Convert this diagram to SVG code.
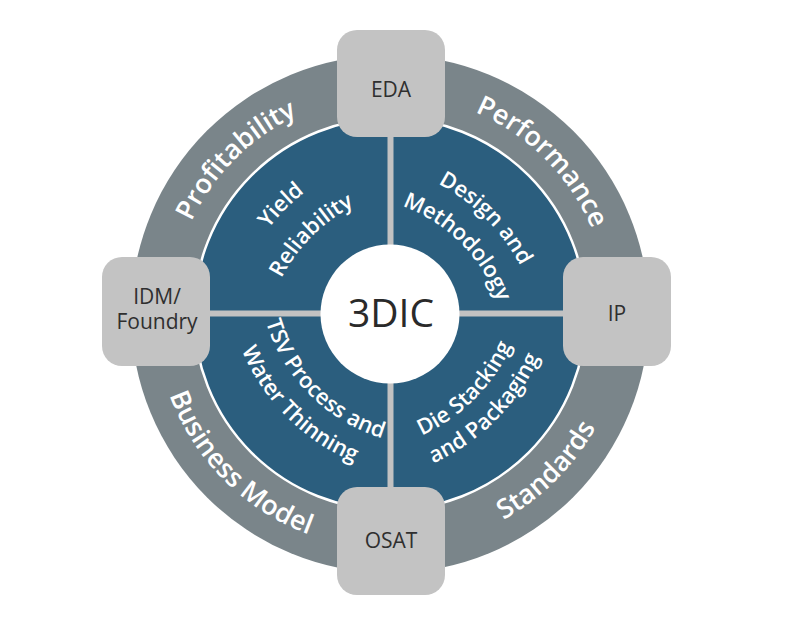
<svg xmlns="http://www.w3.org/2000/svg" width="800" height="625" viewBox="0 0 800 625">
<style>
.ring{fill:#7a858a}
.core{fill:#2b5e7e;stroke:#ffffff;stroke-width:2.5}
.div{stroke:#c2c2c2;stroke-width:6;fill:none}
.box{fill:#c3c3c3}
.hub{fill:#ffffff}
.btxt{font-family:"Open Sans","Noto Sans","DejaVu Sans",sans-serif;font-size:21px;fill:#2f2f2f;text-anchor:middle}
.htxt{font-family:"Open Sans","Noto Sans","DejaVu Sans",sans-serif;font-size:39px;fill:#2a2a2a;text-anchor:middle}
.rtxt{font-family:"Open Sans","Noto Sans","DejaVu Sans",sans-serif;font-size:27px;font-weight:600;fill:#ffffff;text-anchor:middle}
.qtxt{font-family:"Open Sans","Noto Sans","DejaVu Sans",sans-serif;font-size:22px;font-weight:600;fill:#ffffff;text-anchor:middle}
</style>
<defs>
<path id="pProf" d="M 171,314 A 219 219 0 0 1 390,95"/>
<path id="pPerf" d="M 390,95 A 219 219 0 0 1 609,314"/>
<path id="pBus" d="M 155,314 A 235 235 0 0 0 390,549"/>
<path id="pStd" d="M 390,549 A 235 235 0 0 0 625,314"/>
<path id="qUL1" d="M 225.23,374.57 A 208 208 0 0 1 450.57,149.22"/>
<path id="qUL2" d="M 263.08,371.25 A 170 170 0 0 1 447.25,187.08"/>
<path id="qUR1" d="M 330.57,162.17 A 195 195 0 0 1 541.83,373.43"/>
<path id="qUR2" d="M 333.62,197.04 A 160 160 0 0 1 506.96,370.38"/>
<path id="qLL1" d="M 259.09,256.40 A 174 174 0 0 0 447.60,444.91"/>
<path id="qLL2" d="M 227.21,253.61 A 206 206 0 0 0 450.39,476.79"/>
<path id="qLR1" d="M 331.88,450.89 A 180 180 0 0 0 526.89,255.88"/>
<path id="qLR2" d="M 329.26,480.77 A 210 210 0 0 0 556.77,253.26"/>
</defs>
<rect x="0" y="0" width="800" height="625" fill="#ffffff"/>
<g id="ring">
<circle class="ring" cx="390" cy="314" r="259"/>
<text class="rtxt"><textPath href="#pProf" startOffset="50%">Profitability</textPath></text>
<text class="rtxt"><textPath href="#pPerf" startOffset="50%">Performance</textPath></text>
<text class="rtxt"><textPath href="#pBus" startOffset="50%">Business Model</textPath></text>
<text class="rtxt"><textPath href="#pStd" startOffset="50%">Standards</textPath></text>
</g>
<g id="core">
<circle class="core" cx="390" cy="314" r="196"/>
</g>
<g id="quadrants">
<text class="qtxt"><textPath href="#qUL1" startOffset="50%">Yield</textPath></text>
<text class="qtxt"><textPath href="#qUL2" startOffset="50%">Reliability</textPath></text>
<text class="qtxt"><textPath href="#qUR1" startOffset="50%">Design and</textPath></text>
<text class="qtxt"><textPath href="#qUR2" startOffset="50%">Methodology</textPath></text>
<text class="qtxt"><textPath href="#qLL1" startOffset="50%">TSV Process and</textPath></text>
<text class="qtxt"><textPath href="#qLL2" startOffset="50%">Water Thinning</textPath></text>
<text class="qtxt"><textPath href="#qLR1" startOffset="50%">Die Stacking</textPath></text>
<text class="qtxt"><textPath href="#qLR2" startOffset="50%">and Packaging</textPath></text>
</g>
<g id="connectors">
<line class="div" x1="200" y1="313.5" x2="580" y2="313.5"/>
<line class="div" x1="390.5" y1="120" x2="390.5" y2="508"/>
</g>
<g id="hub">
<circle class="hub" cx="390" cy="314" r="69.5"/>
<text class="htxt" x="391" y="327">3DIC</text>
</g>
<g id="eda">
<rect class="box" x="337" y="30" width="108" height="107" rx="20"/>
<text class="btxt" x="391" y="97">EDA</text>
</g>
<g id="idm">
<rect class="box" x="102" y="257" width="108" height="109" rx="20"/>
<text class="btxt" x="157" y="304">IDM/</text>
<text class="btxt" x="157" y="329">Foundry</text>
</g>
<g id="ip">
<rect class="box" x="563" y="257" width="108" height="109" rx="20"/>
<text class="btxt" x="617" y="321">IP</text>
</g>
<g id="osat">
<rect class="box" x="337" y="487" width="108" height="108" rx="20"/>
<text class="btxt" x="391" y="548">OSAT</text>
</g>
</svg>
